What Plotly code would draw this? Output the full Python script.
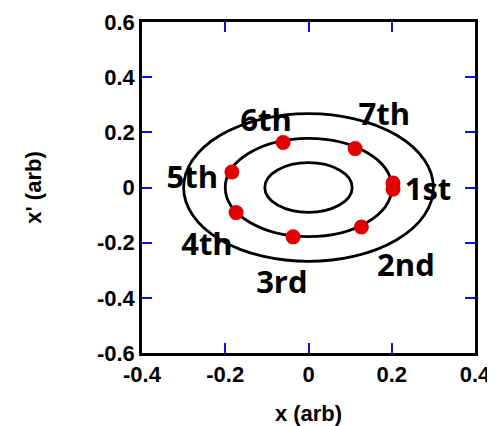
import plotly.graph_objects as go

# Ellipse semi-axes (data units)
ellipse_a = [0.105, 0.20, 0.30]
ellipse_b = [0.09, 0.178, 0.268]

# Red points on middle ellipse
pt_x = [0.203, 0.203, 0.127, -0.037, -0.174, -0.184, -0.061, 0.112]
pt_y = [0.016, -0.006, -0.143, -0.179, -0.091, 0.056, 0.163, 0.141]

# Labels
lab_text = ["1st", "2nd", "3rd", "4th", "5th", "6th", "7th"]
lab_x = [0.287, 0.234, -0.064, -0.244, -0.279, -0.102, 0.182]
lab_y = [-0.017, -0.292, -0.354, -0.217, 0.028, 0.234, 0.256]

x_ticks = [-0.4, -0.2, 0, 0.2, 0.4]
x_ticktext = ["-0.4", "-0.2", "0", "0.2", "0.4"]
y_ticks = [-0.6, -0.4, -0.2, 0, 0.2, 0.4, 0.6]
y_ticktext = ["-0.6", "-0.4", "-0.2", "0", "0.2", "0.4", "0.6"]

fig = go.Figure()

fig.add_trace(go.Scatter(
    x=pt_x, y=pt_y, mode="markers",
    marker=dict(size=15, color="#e00000", line=dict(width=0)),
    showlegend=False, hoverinfo="skip"))

fig.add_trace(go.Scatter(
    x=lab_x, y=lab_y, mode="text", text=lab_text,
    textfont=dict(family="Open Sans", size=31, color="black", weight=700),
    textposition="middle center", showlegend=False, hoverinfo="skip"))

for a, b in zip(ellipse_a, ellipse_b):
    fig.add_shape(type="circle", xref="x", yref="y",
                  x0=-a, x1=a, y0=-b, y1=b,
                  line=dict(color="black", width=2.8), layer="below")

tick_font = dict(family="Liberation Sans, Arial", size=22, color="black", weight=700)
title_font = dict(family="Liberation Sans, Arial", size=22, color="black", weight=700)

# page body has an 8px default margin, so the figure is sized to fit the window
fig.update_layout(
    width=487, height=418,
    margin=dict(l=134, r=20, t=14, b=73),
    paper_bgcolor="white", plot_bgcolor="white",
    xaxis=dict(range=[-0.4, 0.4], tickvals=x_ticks, ticktext=x_ticktext,
               ticks="inside", ticklen=10, tickwidth=2, tickcolor="#1010e0",
               showline=True, linecolor="black", linewidth=2.5, mirror="ticks",
               showgrid=False, zeroline=False, tickfont=tick_font, automargin=False,
               title=dict(text="x (arb)", font=title_font, standoff=20)),
    yaxis=dict(range=[-0.6, 0.6], tickvals=y_ticks, ticktext=y_ticktext,
               ticks="inside", ticklen=10, tickwidth=2, tickcolor="#1010e0",
               showline=True, linecolor="black", linewidth=2.5, mirror="ticks",
               showgrid=False, zeroline=False, tickfont=tick_font, automargin=False,
               title=dict(text="x' (arb)", font=title_font, standoff=50)),
)

fig.write_html("out.html")
